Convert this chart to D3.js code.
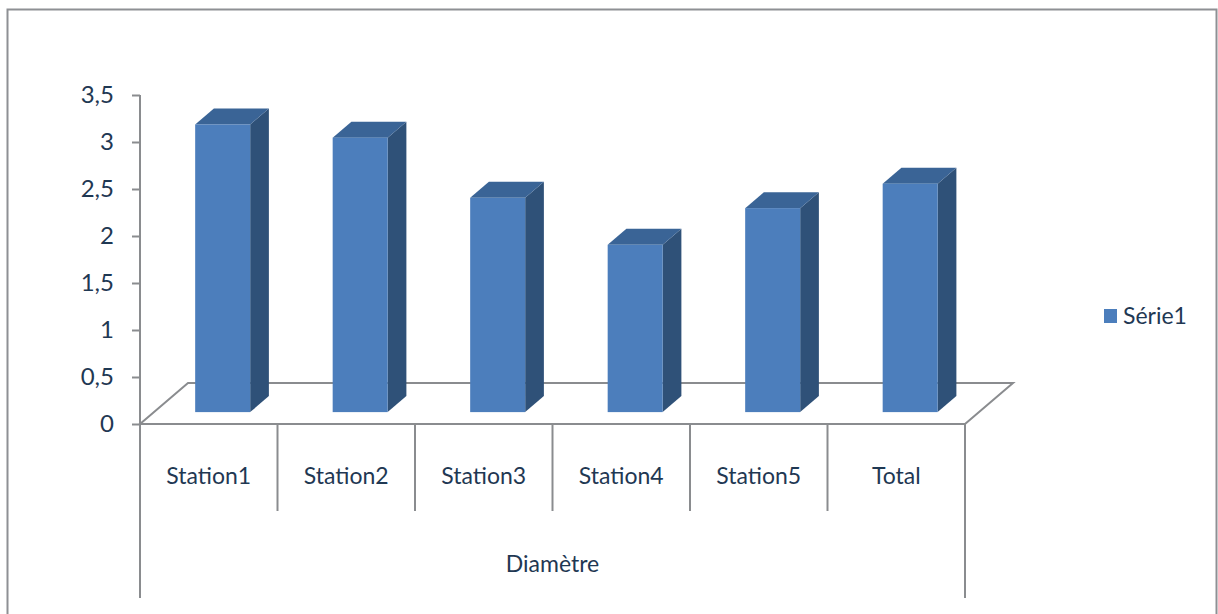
<!DOCTYPE html>
<html>
<head>
<meta charset="utf-8">
<script src="https://cdn.jsdelivr.net/npm/d3@7"></script>
<style>
  body { margin: 0; background: #fff; }
  svg { display: block; }
  text { font-family: Lato, "Open Sans", sans-serif; }
</style>
</head>
<body>
<div id="chart"></div>
<script>
// data
const categories = ["Station1", "Station2", "Station3", "Station4", "Station5", "Total"];
const values = [3.06, 2.92, 2.28, 1.78, 2.17, 2.43];
const yTicks = [0, 0.5, 1, 1.5, 2, 2.5, 3, 3.5];
const groupLabel = "Diamètre";
const seriesName = "Série1";

const W = 1218, H = 614;

// floor / plot geometry
const plot = { left: 140, right: 965, top: 95, bottom: 424 };
const depth = { dx: 48, dy: -41 };      // back edge of floor relative to front
const barDepth = { front: 0.29, back: 0.68 }; // bar position inside the floor depth

const colors = {
  front: "#4c7ebc",
  side: "#2f5178",
  top: "#3a6496",
  axis: "#8a8c8f",
  text: "#1f3853"
};

const svg = d3.select("#chart")
  .append("svg")
  .attr("width", W)
  .attr("height", H);

// outer frame
svg.append("rect")
  .attr("x", 7.5)
  .attr("y", 9.5)
  .attr("width", 1209)
  .attr("height", 640)
  .attr("fill", "#fff")
  .attr("stroke", "#8e9094")
  .attr("stroke-width", 2);

const x = d3.scaleBand()
  .domain(categories)
  .range([plot.left, plot.right])
  .paddingInner(0.6)
  .paddingOuter(0.3);

const y = d3.scaleLinear()
  .domain([0, 3.5])
  .range([plot.bottom, plot.top]);

// floor
const y0 = y(0);
svg.append("path")
  .attr("d", `M${plot.left},${y0} L${plot.left + depth.dx},${y0 + depth.dy} L${plot.right + depth.dx},${y0 + depth.dy} L${plot.right},${y0} Z`)
  .attr("fill", "none")
  .attr("stroke", colors.axis)
  .attr("stroke-width", 2);

// y axis
const yAxis = svg.append("g")
  .attr("transform", `translate(${plot.left},0)`)
  .call(d3.axisLeft(y)
    .tickValues(yTicks)
    .tickSize(8)
    .tickPadding(18)
    .tickFormat(d => String(d).replace(".", ",")));
yAxis.selectAll("path, line").attr("stroke", colors.axis).attr("stroke-width", 2);
yAxis.select(".domain").attr("d", `M0,${y(3.5)}V${y(0)}`);
yAxis.selectAll("text")
  .attr("fill", colors.text)
  .style("font-size", "24px")
  .style("font-family", "Lato, sans-serif");

// bars (3D)
const fx = barDepth.front * depth.dx, fy = barDepth.front * depth.dy;
const bx = barDepth.back * depth.dx, by = barDepth.back * depth.dy;

const bars = svg.append("g").selectAll("g")
  .data(categories.map((c, i) => ({ c, v: values[i] })))
  .join("g");

bars.each(function (d) {
  const g = d3.select(this);
  const x0 = x(d.c) + fx, x1 = x(d.c) + x.bandwidth() + fx;
  const yb = y(0) + fy, yt = y(d.v) + fy;
  const sx = bx - fx, sy = by - fy;
  // side
  g.append("path")
    .attr("d", `M${x1},${yb} L${x1 + sx},${yb + sy} L${x1 + sx},${yt + sy} L${x1},${yt} Z`)
    .attr("fill", colors.side);
  // top
  g.append("path")
    .attr("d", `M${x0},${yt} L${x0 + sx},${yt + sy} L${x1 + sx},${yt + sy} L${x1},${yt} Z`)
    .attr("fill", colors.top);
  // front
  g.append("rect")
    .attr("x", x0)
    .attr("y", yt)
    .attr("width", x1 - x0)
    .attr("height", yb - yt)
    .attr("fill", colors.front);
});

// category axis with separators
const edges = categories.map((c, i) => plot.left + i * (plot.right - plot.left) / categories.length);
edges.push(plot.right);
svg.append("g").selectAll("line")
  .data(edges)
  .join("line")
  .attr("x1", d => d).attr("x2", d => d)
  .attr("y1", y0)
  .attr("y2", (d, i) => (i === 0 || i === edges.length - 1) ? 598 : 511)
  .attr("stroke", colors.axis)
  .attr("stroke-width", 2);

svg.append("g").selectAll("text")
  .data(categories)
  .join("text")
  .attr("x", d => x(d) + x.bandwidth() / 2)
  .attr("y", 484)
  .attr("text-anchor", "middle")
  .attr("fill", colors.text)
  .style("font-size", "23px")
  .text(d => d);

svg.append("text")
  .attr("x", (plot.left + plot.right) / 2)
  .attr("y", 572)
  .attr("text-anchor", "middle")
  .attr("fill", colors.text)
  .style("font-size", "23px")
  .text(groupLabel);

// legend
const legend = svg.append("g").attr("transform", "translate(1104,309)");
legend.append("rect")
  .attr("width", 13)
  .attr("height", 14)
  .attr("fill", colors.front);
legend.append("text")
  .attr("x", 19)
  .attr("y", 15)
  .attr("fill", colors.text)
  .style("font-size", "23px")
  .text(seriesName);
</script>
</body>
</html>
